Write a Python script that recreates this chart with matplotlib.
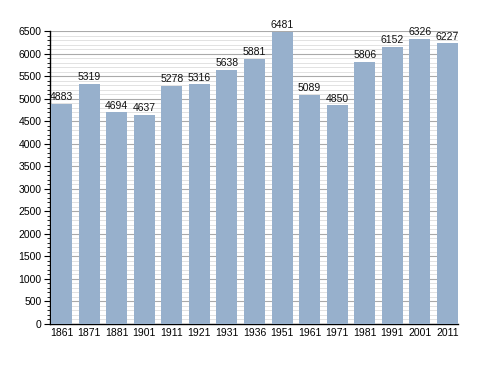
import matplotlib
matplotlib.use("Agg")
import matplotlib.pyplot as plt
import numpy as np

years = ["1861", "1871", "1881", "1901", "1911", "1921", "1931", "1936",
         "1951", "1961", "1971", "1981", "1991", "2001", "2011"]
population = [4883, 5319, 4694, 4637, 5278, 5316, 5638, 5881,
              6481, 5089, 4850, 5806, 6152, 6326, 6227]

plt.rcParams['font.family'] = ['Liberation Sans', 'DejaVu Sans']

fig = plt.figure(figsize=(4.88, 3.73), dpi=100)
ax = fig.add_axes([50 / 488, 49 / 373, 408 / 488, 293 / 373])

x = np.arange(len(years))
ax.bar(x, population, width=0.76, color='#97b0cc', zorder=3)
for xi, v in zip(x, population):
    ax.text(xi, v + 40, str(v), ha='center', va='bottom', fontsize=7.5,
            color='#111111', zorder=4)

ax.set_xlim(-0.417, 14.38)
ax.set_ylim(0, 6500)
ax.set_xticks(x)
ax.set_xticklabels(years)
ax.set_yticks(np.arange(0, 6501, 500))
ax.set_yticks(np.arange(0, 6501, 100), minor=True)

ax.grid(axis='y', which='major', color='#aaaaaa', linewidth=0.8, zorder=1)
ax.grid(axis='y', which='minor', color='#dddddd', linewidth=0.6, zorder=0)

ax.spines['top'].set_visible(False)
ax.spines['right'].set_visible(False)
ax.spines['left'].set_linewidth(1.0)
ax.spines['bottom'].set_linewidth(1.0)

ax.tick_params(axis='y', which='major', length=4, width=0.8, labelsize=7.5, pad=2)
ax.tick_params(axis='y', which='minor', length=2, width=0.6)
ax.tick_params(axis='x', length=0, labelsize=7.5, pad=3)

fig.savefig("out.png", dpi=100)
